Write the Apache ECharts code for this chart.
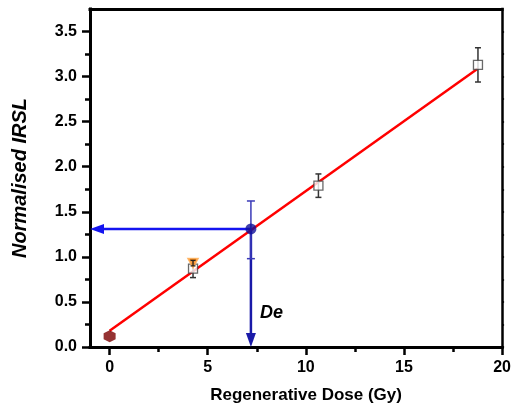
<!DOCTYPE html>
<html>
<head>
<meta charset="utf-8">
<script src="https://cdn.jsdelivr.net/npm/echarts@6/dist/echarts.min.js"></script>
<style>
  html, body { margin: 0; padding: 0; background: #fff; }
  #main { width: 514px; height: 415px; }
</style>
</head>
<body>
<div id="main"></div>
<script>
// regenerated points (open squares)
var regenDose = [4.25, 10.64, 18.77];
var regenIrsl = [0.87, 1.79, 3.13];
var regenLow = [0.77, 1.66, 2.94];
var regenHigh = [0.97, 1.92, 3.32];

// zero dose point
var zeroDose = [0];
var zeroIrsl = [0.12];

// recycling point (orange triangle)
var recycleDose = [4.25];
var recycleIrsl = [0.93];
var recycleLow = [0.90];
var recycleHigh = [0.96];

// natural / De point
var deDose = [7.2];
var deIrsl = [1.31];
var deLow = [0.98];
var deHigh = [1.62];

// linear fit
var fitDose = [0, 18.77];
var fitIrsl = [0.18, 3.09];

// axis ticks
var xTicks = [0, 5, 10, 15, 20];
var xMinor = [2.5, 7.5, 12.5, 17.5];
var yTicks = [0, 0.5, 1.0, 1.5, 2.0, 2.5, 3.0, 3.5];
var yMinor = [0.25, 0.75, 1.25, 1.75, 2.25, 2.75, 3.25];
var yAll = yTicks.concat(yMinor);

var X_MIN = -1, X_MAX = 20, Y_MIN = 0, Y_MAX = 3.75;
var FONT = 'Liberation Sans';

function zip(xs, ys) {
    return xs.map(function (x, i) { return [x, ys[i]]; });
}
function errRows(xs, lo, hi) {
    return xs.map(function (x, i) { return [x, lo[i], hi[i]]; });
}

// vertical error bar with caps
function errorBar(color, capHalf, width) {
    return function (params, api) {
        var top = api.coord([api.value(0), api.value(2)]);
        var bot = api.coord([api.value(0), api.value(1)]);
        var st = { stroke: color, lineWidth: width };
        return {
            type: 'group',
            children: [
                { type: 'line', shape: { x1: top[0], y1: top[1], x2: bot[0], y2: bot[1] }, style: st },
                { type: 'line', shape: { x1: top[0] - capHalf, y1: top[1], x2: top[0] + capHalf, y2: top[1] }, style: st },
                { type: 'line', shape: { x1: bot[0] - capHalf, y1: bot[1], x2: bot[0] + capHalf, y2: bot[1] }, style: st }
            ]
        };
    };
}

// arrows from De point to the axes
var arrowRows = [
    [deDose[0], deIrsl[0], X_MIN, deIrsl[0]],
    [deDose[0], deIrsl[0], deDose[0], Y_MIN]
];
var arrowColors = ['#1414f0', '#1a1aa8'];

function renderArrow(params, api) {
    var a = api.coord([api.value(0), api.value(1)]);
    var b = api.coord([api.value(2), api.value(3)]);
    var dx = b[0] - a[0], dy = b[1] - a[1];
    var len = Math.sqrt(dx * dx + dy * dy);
    var ux = dx / len, uy = dy / len;
    var headL = 14, headW = 5;
    var bx = b[0] - ux * headL, by = b[1] - uy * headL;
    var color = arrowColors[params.dataIndex];
    return {
        type: 'group',
        children: [
            { type: 'line', shape: { x1: a[0], y1: a[1], x2: bx, y2: by },
              style: { stroke: color, lineWidth: 2.5 } },
            { type: 'polygon', shape: { points: [
                [b[0], b[1]],
                [bx - uy * headW, by + ux * headW],
                [bx + uy * headW, by - ux * headW]
              ] }, style: { fill: color } }
        ]
    };
}

var chart = echarts.init(document.getElementById('main'));

var tickLabelStyle = { fontFamily: FONT, fontWeight: 'bold', fontSize: 16, color: '#000' };

var option = {
    backgroundColor: '#fff',
    animation: false,
    grid: { left: 90, right: 11, top: 9, bottom: 68 },
    xAxis: [
        {
            type: 'value', min: X_MIN, max: X_MAX, position: 'bottom',
            name: 'Regenerative Dose (Gy)', nameLocation: 'middle', nameGap: 40,
            nameTextStyle: { fontFamily: FONT, fontWeight: 'bold', fontSize: 17, color: '#000', padding: [0, 0, 0, 20] },
            axisLine: { onZero: false, lineStyle: { color: '#000', width: 3, cap: 'square' } },
            axisTick: { customValues: xTicks, length: 8, lineStyle: { color: '#000', width: 2.5 } },
            axisLabel: Object.assign({ customValues: xTicks, margin: 13 }, tickLabelStyle),
            splitLine: { show: false }
        },
        {
            type: 'value', min: X_MIN, max: X_MAX, position: 'bottom',
            axisLine: { show: false, onZero: false },
            axisTick: { customValues: xMinor, length: 5, lineStyle: { color: '#000', width: 2.5 } },
            axisLabel: { show: false },
            splitLine: { show: false }
        },
        {
            type: 'value', min: X_MIN, max: X_MAX, position: 'top',
            axisLine: { onZero: false, lineStyle: { color: '#000', width: 3, cap: 'square' } },
            axisTick: { show: false },
            axisLabel: { show: false },
            splitLine: { show: false }
        }
    ],
    yAxis: [
        {
            type: 'value', min: Y_MIN, max: Y_MAX, position: 'left',
            name: 'Normalised IRSL', nameLocation: 'middle', nameGap: 60,
            nameTextStyle: { fontFamily: FONT, fontWeight: 'bold', fontStyle: 'italic', fontSize: 20, color: '#000' },
            axisLine: { onZero: false, lineStyle: { color: '#000', width: 3, cap: 'square' } },
            axisTick: { customValues: yTicks, length: 8, lineStyle: { color: '#000', width: 2.5 } },
            axisLabel: Object.assign({
                customValues: yTicks, margin: 13,
                formatter: function (v) { return v.toFixed(1); }
            }, tickLabelStyle),
            splitLine: { show: false }
        },
        {
            type: 'value', min: Y_MIN, max: Y_MAX, position: 'left',
            axisLine: { show: false, onZero: false },
            axisTick: { customValues: yMinor, length: 5, lineStyle: { color: '#000', width: 2.5 } },
            axisLabel: { show: false },
            splitLine: { show: false }
        },
        {
            type: 'value', min: Y_MIN, max: Y_MAX, position: 'right',
            axisLine: { onZero: false, lineStyle: { color: '#000', width: 2.5, cap: 'square' } },
            axisTick: { customValues: yAll, length: 2, lineStyle: { color: '#000', width: 1.5 } },
            axisLabel: { show: false },
            splitLine: { show: false }
        }
    ],
    graphic: [
        {
            type: 'text', x: 260, y: 313,
            style: { text: 'De', font: 'italic bold 18px "Liberation Sans"', fill: '#000', verticalAlign: 'middle' }
        }
    ],
    series: [
        {
            name: 'fit', type: 'line', data: zip(fitDose, fitIrsl),
            symbol: 'none', lineStyle: { color: '#ff0000', width: 2.5 }, z: 3
        },
        {
            name: 'arrows', type: 'custom', data: arrowRows,
            renderItem: renderArrow, clip: false, z: 2
        },
        {
            name: 'regen err', type: 'custom', data: errRows(regenDose, regenLow, regenHigh),
            renderItem: errorBar('#333', 3, 1.5), z: 4
        },
        {
            name: 'de err', type: 'custom', data: errRows(deDose, deLow, deHigh),
            renderItem: errorBar('#3a3ab8', 4, 1.5), z: 4
        },
        {
            name: 'regen', type: 'scatter', data: zip(regenDose, regenIrsl),
            symbol: 'rect', symbolSize: 9,
            itemStyle: { color: '#fff', borderColor: '#444', borderWidth: 1.3 }, z: 5
        },
        {
            name: 'recycle', type: 'scatter', data: zip(recycleDose, recycleIrsl),
            symbol: 'triangle', symbolRotate: 180, symbolSize: [11, 10],
            itemStyle: { color: '#ff8a14', borderColor: '#ffb25c', borderWidth: 1 }, z: 6
        },
        {
            name: 'recycle err', type: 'custom', data: errRows(recycleDose, recycleLow, recycleHigh),
            renderItem: errorBar('#222', 2.5, 1.2), z: 7
        },
        {
            name: 'zero', type: 'scatter', data: zip(zeroDose, zeroIrsl),
            symbol: 'path://M0,-1 L0.866,-0.5 L0.866,0.5 L0,1 L-0.866,0.5 L-0.866,-0.5Z',
            symbolSize: 12, itemStyle: { color: '#7a0000' }, z: 6
        },
        {
            name: 'de', type: 'scatter', data: zip(deDose, deIrsl),
            symbol: 'circle', symbolSize: 11, itemStyle: { color: '#10109a' }, z: 6
        }
    ]
};

chart.setOption(option);
</script>
</body>
</html>
